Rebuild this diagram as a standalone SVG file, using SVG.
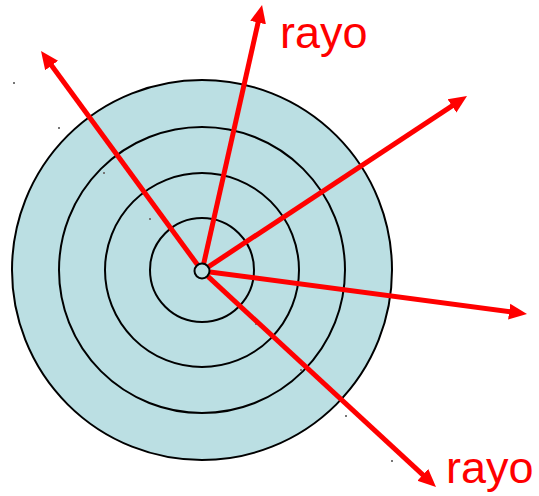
<svg xmlns="http://www.w3.org/2000/svg" width="539" height="496" viewBox="0 0 539 496">
<style>
.ring{fill:#BBDFE3;stroke:#000;stroke-width:2}
.ray{stroke:#FF0000;stroke-width:5;fill:none;marker-end:url(#ah)}
.lbl{font-family:"Liberation Sans",Arial,sans-serif;font-size:45px;fill:#FF0000}
.dot{fill:#777}
</style>
<defs>
<marker id="ah" markerUnits="userSpaceOnUse" viewBox="0 0 18 18" markerWidth="18" markerHeight="18" refX="6" refY="9" orient="auto">
<path d="M0,1 L18,9 L0,17 z" fill="#FF0000"/>
</marker>
</defs>
<rect width="539" height="496" fill="#fff"/>
<g id="rings">
<circle class="ring" cx="202" cy="270" r="190"/>
<circle class="ring" cx="202" cy="270" r="143"/>
<circle class="ring" cx="202" cy="270" r="97"/>
<circle class="ring" cx="202" cy="270" r="52"/>
</g>
<g id="specks">
<rect class="dot" x="13" y="82" width="2" height="2"/>
<rect class="dot" x="58" y="127" width="2" height="2"/>
<rect class="dot" x="103" y="172" width="2" height="2"/>
<rect class="dot" x="149" y="218" width="2" height="2"/>
<rect class="dot" x="255" y="323" width="2" height="2"/>
<rect class="dot" x="300" y="369" width="2" height="2"/>
<rect class="dot" x="345" y="415" width="2" height="2"/>
<rect class="dot" x="391" y="460" width="2" height="2"/>
</g>
<g id="connectors">
<line class="ray" x1="197.3" y1="264.5" x2="48.1" y2="60.7"/>
<line class="ray" x1="203.8" y1="263.2" x2="259.4" y2="16.7"/>
<line class="ray" x1="208.7" y1="266.6" x2="457.0" y2="102.6"/>
<line class="ray" x1="209.9" y1="272.0" x2="515.1" y2="312.4"/>
<line class="ray" x1="207.9" y1="276.4" x2="427.2" y2="478.9"/>
</g>
<g id="center">
<circle class="ring" cx="202" cy="271" r="7.5"/>
</g>
<g id="label-top"><text class="lbl" x="280" y="48">rayo</text></g>
<g id="label-bottom"><text class="lbl" x="446" y="483">rayo</text></g>
</svg>
